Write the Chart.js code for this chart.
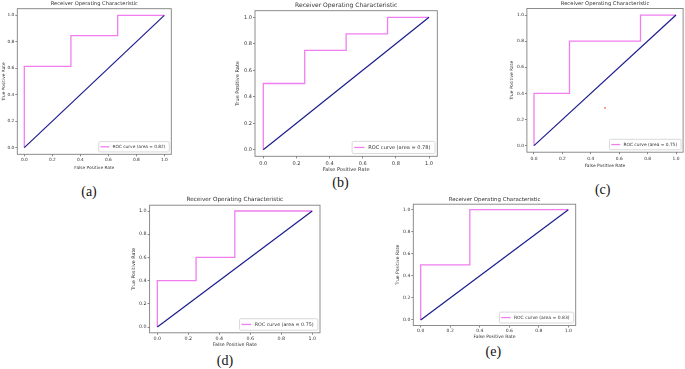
<!DOCTYPE html>
<html><head><meta charset="utf-8">
<script src="https://cdn.jsdelivr.net/npm/chart.js@4.4.1/dist/chart.umd.min.js"></script>
<style>
html,body{margin:0;padding:0;background:#fff;}
#wrap{position:relative;width:685px;height:369px;overflow:hidden;background:#fff;}
#wrap canvas{position:absolute;}
.lab{position:absolute;font-family:"Liberation Serif","Times New Roman",serif;font-size:14px;color:#111;transform:translate(-50%,-50%);white-space:nowrap;line-height:1;}
</style></head><body><div id="wrap"></div>
<script>
// ---- data ----
const titleText = 'Receiver Operating Characteristic';
const xAxisLabel = 'False Positive Rate';
const yAxisLabel = 'True Positive Rate';
const panelNames = ['(a)', '(b)', '(c)', '(d)', '(e)'];
const tickValues = [0, 0.2, 0.4, 0.6, 0.8, 1.0];
const diagFpr = [0, 1];
const diagTpr = [0, 1];
const fprA = [0, 0, 0.333, 0.333, 0.667, 0.667, 1];
const tprA = [0, 0.615, 0.615, 0.846, 0.846, 1, 1];
const fprB = [0, 0, 0.25, 0.25, 0.5, 0.5, 0.75, 0.75, 1];
const tprB = [0, 0.5, 0.5, 0.75, 0.75, 0.875, 0.875, 1, 1];
const fprC = [0, 0, 0.25, 0.25, 0.75, 0.75, 1];
const tprC = [0, 0.4, 0.4, 0.8, 0.8, 1, 1];
const fprD = [0, 0, 0.25, 0.25, 0.5, 0.5, 1];
const tprD = [0, 0.4, 0.4, 0.6, 0.6, 1, 1];
const fprE = [0, 0, 0.333, 0.333, 1];
const tprE = [0, 0.5, 0.5, 1, 1];
const aucValues = [0.82, 0.78, 0.75, 0.75, 0.83];
const strayXC = [0.5];
const strayYC = [0.29];

// ---- layout (pixel geometry of each panel) ----
const geom = [
  {L:17.3, R:171.3, T:8.7,  B:154.3, yl:3.6,   ty:3.5,   kty:160,   xly:167.7, s:0.43,  lx:89,    ly:191.5},
  {L:255,  R:437.3, T:10.7, B:156.3, yl:238,   ty:5.7,   kty:163.3, xly:169.3, s:0.505, lx:340.5, ly:183.3},
  {L:526.9,R:683.1, T:8.5,  B:152.2, yl:512,   ty:3.7,   kty:159,   xly:165.7, s:0.437, lx:602.7, ly:190},
  {L:149.6,R:320,   T:205.2,B:332.8, yl:133.3, ty:200,   kty:338.3, xly:344.7, s:0.477, lx:225,   ly:361.4},
  {L:413.3,R:575.7, T:204.2,B:325.5, yl:397.7, ty:200,   kty:330.7, xly:336.7, s:0.453, lx:493.3, ly:351.7}
];
const rocSets = [[fprA,tprA],[fprB,tprB],[fprC,tprC],[fprD,tprD],[fprE,tprE]];
const FAM = '"DejaVu Sans", sans-serif';
const ROC_COLOR = '#f07ef0';
const DIAG_COLOR = '#1c1c8e';

const decoPlugin = {
  id: 'rocDeco',
  afterDatasetsDraw(chart, args, opts) {
    const {ctx, chartArea: a} = chart;
    ctx.save();
    ctx.strokeStyle = '#808080';
    ctx.lineWidth = 0.9;
    ctx.strokeRect(a.left, a.top, a.right - a.left, a.bottom - a.top);
    const fs = opts.fs;
    ctx.font = fs + 'px ' + FAM;
    const tw = ctx.measureText(opts.text).width;
    const bw = tw + fs * 4.1;
    const bh = fs * 2.4;
    const bx = a.right - fs * 0.45 - bw;
    const by = a.bottom - fs * 0.55 - bh;
    ctx.beginPath();
    if (ctx.roundRect) ctx.roundRect(bx, by, bw, bh, fs * 0.3); else ctx.rect(bx, by, bw, bh);
    ctx.fillStyle = 'rgba(255,255,255,0.85)';
    ctx.fill();
    ctx.strokeStyle = '#cfcfcf';
    ctx.lineWidth = 0.8;
    ctx.stroke();
    const cy = by + bh / 2;
    ctx.beginPath();
    ctx.moveTo(bx + fs * 0.4, cy);
    ctx.lineTo(bx + fs * 2.45, cy);
    ctx.strokeStyle = ROC_COLOR;
    ctx.lineWidth = 1.3;
    ctx.stroke();
    ctx.fillStyle = '#333';
    ctx.textBaseline = 'middle';
    ctx.textAlign = 'left';
    ctx.fillText(opts.text, bx + fs * 3.2, cy + 0.3);
    ctx.restore();
  }
};

const wrap = document.getElementById('wrap');

geom.forEach((g, i) => {
  const fsT = 12 * g.s, fsK = 10 * g.s, lhT = fsT * 1.2, lhK = fsK * 1.2;
  const left = Math.floor(g.yl - lhK / 2);
  const top = Math.floor(g.ty - lhT / 2);
  const W = Math.ceil(g.R + 4 - left);
  const H = Math.ceil(g.xly + lhK / 2 - top);
  const yW = g.L - left;
  const yTitlePadTop = g.yl - lhK / 2 - left;
  const titlePadTop = g.ty - lhT / 2 - top;
  const titlePadBottom = g.T - top - lhT - titlePadTop;
  const xH = top + H - g.B;
  const xTitlePadBottom = top + H - g.xly - lhK / 2;
  const tickLen = 2;
  const xTickPad = g.kty - lhK / 2 - g.B - tickLen;
  const padRight = left + W - g.R;

  const cv = document.createElement('canvas');
  cv.width = W; cv.height = H;
  cv.style.left = left + 'px'; cv.style.top = top + 'px';
  cv.style.width = W + 'px'; cv.style.height = H + 'px';
  wrap.appendChild(cv);

  const [fpr, tpr] = rocSets[i];
  const datasets = [
    {label: 'ROC curve (area = ' + aucValues[i].toFixed(2) + ')',
     data: fpr.map((x, k) => ({x: x, y: tpr[k]})),
     showLine: true, borderColor: ROC_COLOR, backgroundColor: ROC_COLOR,
     borderWidth: 1.3, pointRadius: 0, order: 2},
    {label: 'chance',
     data: diagFpr.map((x, k) => ({x: x, y: diagTpr[k]})),
     showLine: true, borderColor: DIAG_COLOR, backgroundColor: DIAG_COLOR,
     borderWidth: 1.2, pointRadius: 0, order: 1}
  ];
  if (i === 2) {
    datasets.push({label: 'mark', data: strayXC.map((x, k) => ({x: x, y: strayYC[k]})),
      pointRadius: 0.9, backgroundColor: '#ff5a5a', borderWidth: 0, order: 0});
  }

  const tickFont = {family: FAM, size: fsK, lineHeight: 1.2};
  const gridCfg = {display: true, drawOnChartArea: false, drawTicks: true, tickLength: tickLen, color: '#555', lineWidth: 0.7};
  new Chart(cv, {
    type: 'scatter',
    data: {datasets: datasets},
    plugins: [decoPlugin],
    options: {
      responsive: false, animation: false, devicePixelRatio: 1,
      layout: {padding: {left: 0, top: 0, bottom: 0, right: padRight}},
      plugins: {
        legend: {display: false},
        tooltip: {enabled: false},
        title: {display: true, text: titleText, fullSize: false, color: '#333',
                font: {family: FAM, size: fsT, weight: 'normal', lineHeight: 1.2},
                padding: {top: titlePadTop, bottom: titlePadBottom}},
        rocDeco: {fs: fsK, text: datasets[0].label}
      },
      scales: {
        x: {type: 'linear', min: -0.05, max: 1.05,
            afterBuildTicks: sc => { sc.ticks = tickValues.map(v => ({value: v})); },
            afterFit: sc => { sc.height = xH; },
            grid: gridCfg, border: {display: false},
            ticks: {padding: xTickPad, color: '#333', font: tickFont, maxRotation: 0, autoSkip: false,
                    callback: v => Number(v).toFixed(1)},
            title: {display: true, text: xAxisLabel, color: '#333', font: tickFont,
                    padding: {top: 0, bottom: xTitlePadBottom}}},
        y: {type: 'linear', min: -0.05, max: 1.05,
            afterBuildTicks: sc => { sc.ticks = tickValues.map(v => ({value: v})); },
            afterFit: sc => { sc.width = yW; },
            grid: gridCfg, border: {display: false},
            ticks: {padding: 1, color: '#333', font: tickFont, autoSkip: false,
                    callback: v => Number(v).toFixed(1)},
            title: {display: true, text: yAxisLabel, color: '#333', font: tickFont,
                    padding: {top: yTitlePadTop, bottom: 0}}}
      }
    }
  });

  const d = document.createElement('div');
  d.className = 'lab';
  d.textContent = panelNames[i];
  d.style.left = g.lx + 'px';
  d.style.top = g.ly + 'px';
  wrap.appendChild(d);
});
</script>
</body></html>
